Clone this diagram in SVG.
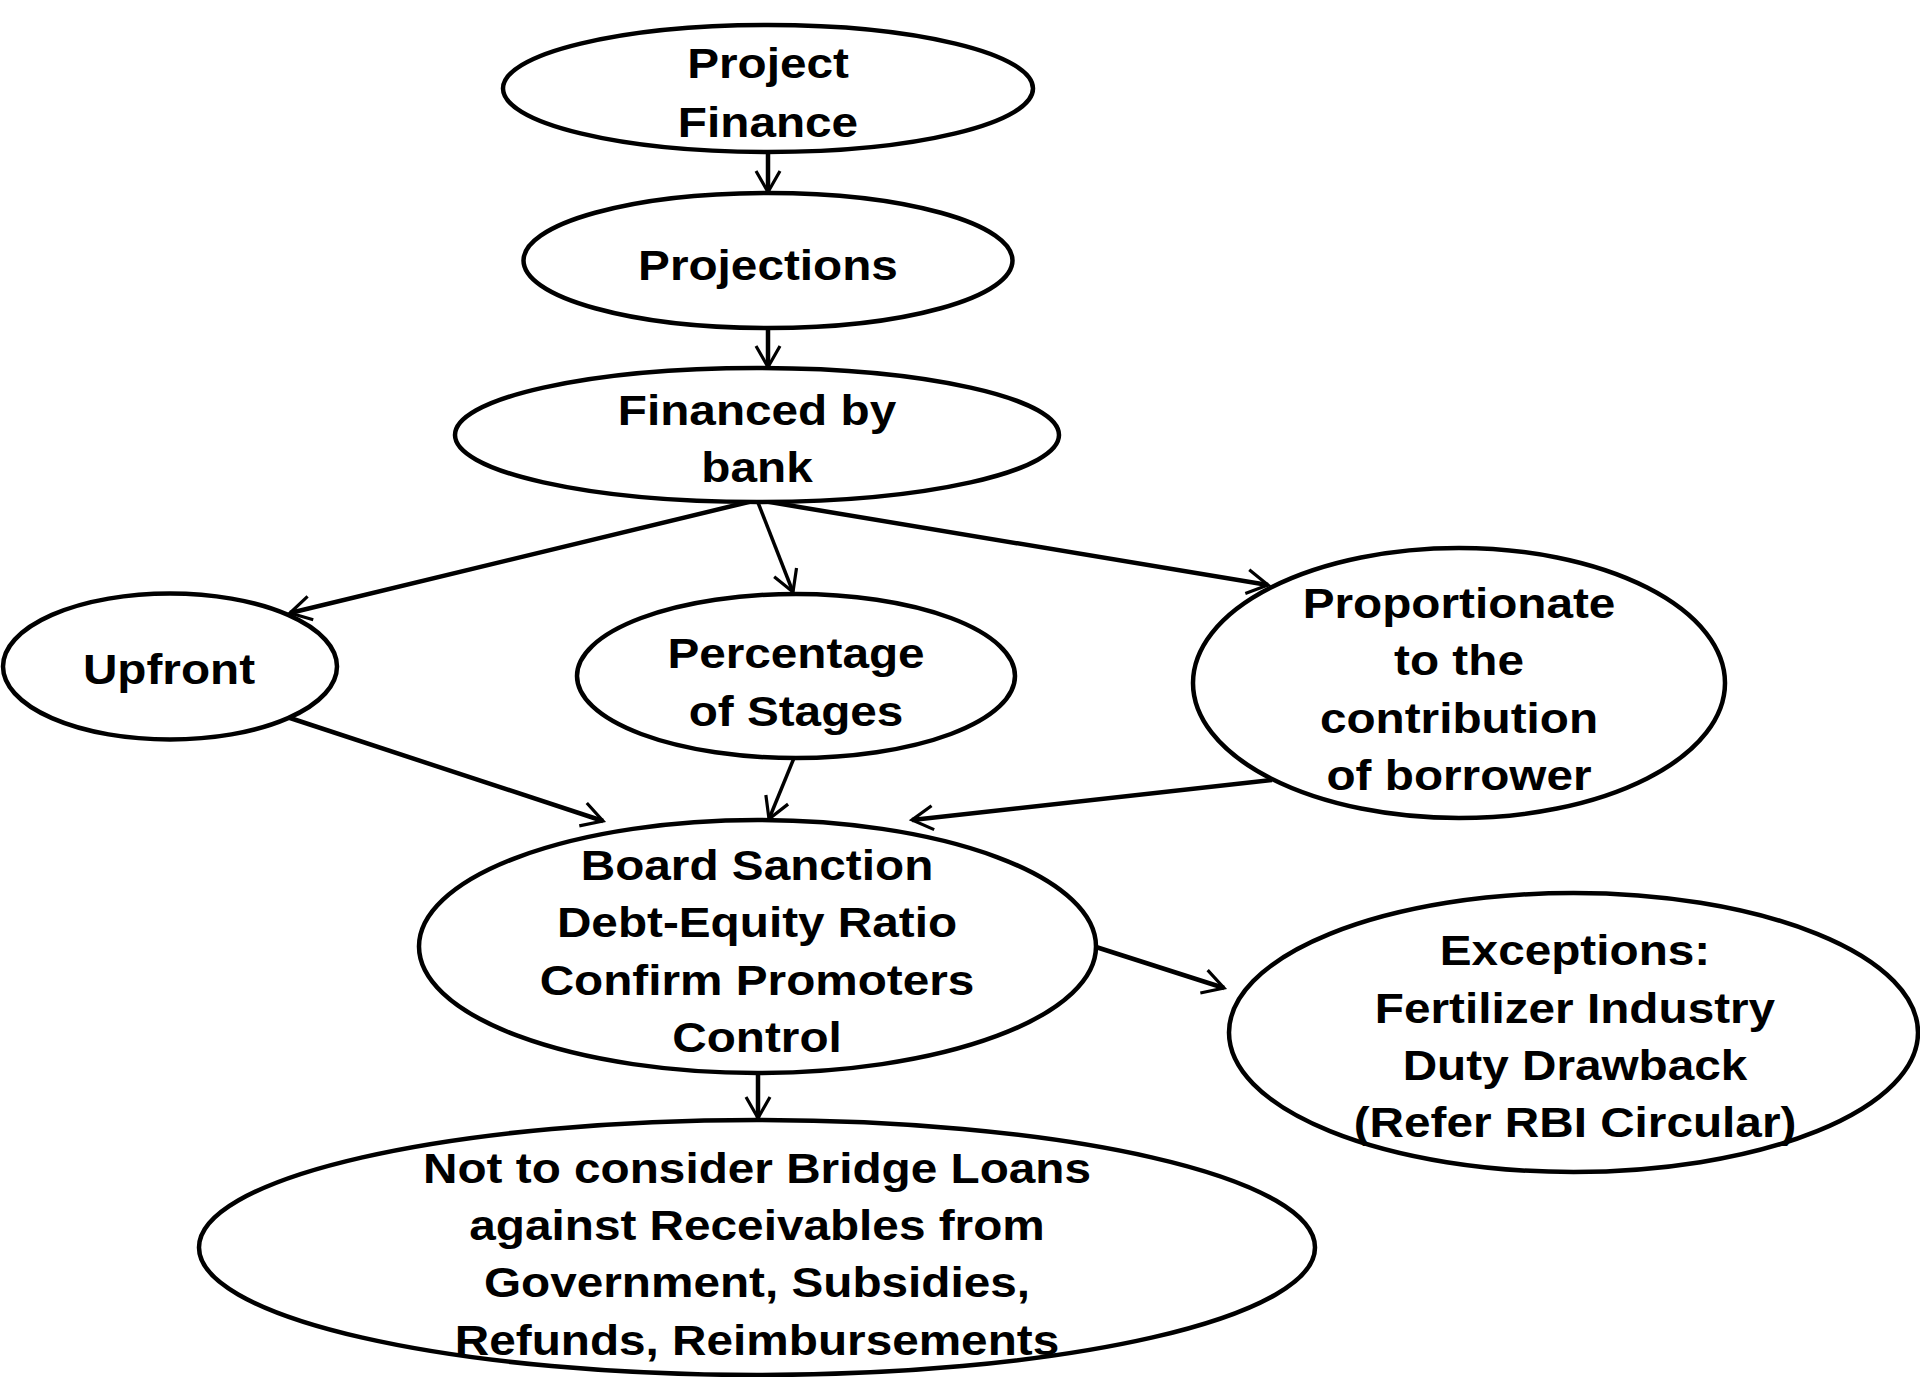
<svg xmlns="http://www.w3.org/2000/svg" width="1920" height="1377" viewBox="0 0 1920 1377">
<style>
.n{fill:#fff;stroke:#000;stroke-width:4.5}
.t{font-family:"Liberation Sans",Arial,sans-serif;font-weight:bold;font-size:43px;text-anchor:middle;fill:#000}
.c{fill:none;stroke:#000;stroke-width:4.5;marker-end:url(#ah)}
.c.thin{stroke-width:3.5}
</style>
<defs>
<marker id="ah" viewBox="-24 -14 28 28" refX="0" refY="0" markerWidth="28" markerHeight="28" markerUnits="userSpaceOnUse" orient="auto">
<path d="M-21,-12 L0,0 L-21,12" fill="none" stroke="#000" stroke-width="3.2"/>
</marker>
</defs>
<rect width="1920" height="1377" fill="#fff"/>
<g id="connectors">
<line class="c" x1="768" y1="152" x2="768" y2="192"/>
<line class="c" x1="768" y1="328" x2="768" y2="367"/>
<line class="c" x1="757" y1="500" x2="290" y2="613"/>
<line class="c thin" x1="757" y1="500" x2="793" y2="592"/>
<line class="c" x1="757" y1="500" x2="1268" y2="585"/>
<line class="c" x1="287" y1="717" x2="603" y2="821"/>
<line class="c thin" x1="794" y1="758" x2="769" y2="819"/>
<line class="c" x1="1272" y1="780" x2="912" y2="820"/>
<line class="c" x1="1096" y1="947" x2="1224" y2="988"/>
<line class="c" x1="758" y1="1073" x2="758" y2="1118"/>
</g>
<g id="project-finance">
<ellipse class="n" cx="768" cy="88.5" rx="265" ry="63.5"/>
<text class="t" transform="translate(768 0) scale(1.11 1)"><tspan x="0" y="78">Project</tspan><tspan x="0" y="137">Finance</tspan></text>
</g>
<g id="projections">
<ellipse class="n" cx="768" cy="260.5" rx="244.5" ry="67.5"/>
<text class="t" transform="translate(768 0) scale(1.11 1)"><tspan x="0" y="280">Projections</tspan></text>
</g>
<g id="financed-by-bank">
<ellipse class="n" cx="757" cy="435" rx="302" ry="67"/>
<text class="t" transform="translate(757 0) scale(1.11 1)"><tspan x="0" y="425">Financed by</tspan><tspan x="0" y="482">bank</tspan></text>
</g>
<g id="upfront">
<ellipse class="n" cx="170" cy="666.5" rx="167" ry="73"/>
<text class="t" transform="translate(169 0) scale(1.11 1)"><tspan x="0" y="684">Upfront</tspan></text>
</g>
<g id="percentage-of-stages">
<ellipse class="n" cx="796" cy="676" rx="219" ry="82"/>
<text class="t" transform="translate(796 0) scale(1.11 1)"><tspan x="0" y="668">Percentage</tspan><tspan x="0" y="726">of Stages</tspan></text>
</g>
<g id="proportionate">
<ellipse class="n" cx="1459" cy="683" rx="266" ry="135"/>
<text class="t" transform="translate(1459 0) scale(1.11 1)"><tspan x="0" y="618">Proportionate</tspan><tspan x="0" y="675">to the</tspan><tspan x="0" y="733">contribution</tspan><tspan x="0" y="790">of borrower</tspan></text>
</g>
<g id="board-sanction">
<ellipse class="n" cx="757.5" cy="946.5" rx="338.5" ry="126.5"/>
<text class="t" transform="translate(757 0) scale(1.11 1)"><tspan x="0" y="880">Board Sanction</tspan><tspan x="0" y="937">Debt-Equity Ratio</tspan><tspan x="0" y="995">Confirm Promoters</tspan><tspan x="0" y="1052">Control</tspan></text>
</g>
<g id="exceptions">
<ellipse class="n" cx="1573.5" cy="1032.5" rx="344.5" ry="139.5"/>
<text class="t" transform="translate(1575 0) scale(1.11 1)"><tspan x="0" y="965">Exceptions:</tspan><tspan x="0" y="1023">Fertilizer Industry</tspan><tspan x="0" y="1080">Duty Drawback</tspan><tspan x="0" y="1137">(Refer RBI Circular)</tspan></text>
</g>
<g id="bridge-loans">
<ellipse class="n" cx="757" cy="1247.5" rx="558" ry="127.5"/>
<text class="t" transform="translate(757 0) scale(1.11 1)"><tspan x="0" y="1183">Not to consider Bridge Loans</tspan><tspan x="0" y="1240">against Receivables from</tspan><tspan x="0" y="1297">Government, Subsidies,</tspan><tspan x="0" y="1355">Refunds, Reimbursements</tspan></text>
</g>
</svg>
